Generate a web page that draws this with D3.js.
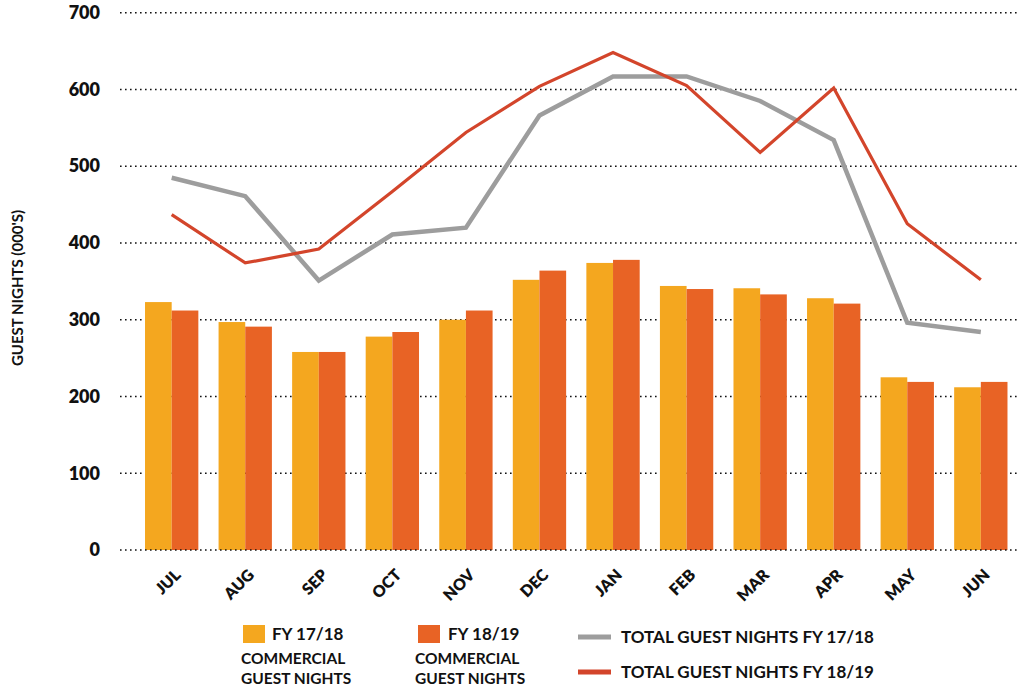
<!DOCTYPE html>
<html><head><meta charset="utf-8">
<script src="https://cdn.jsdelivr.net/npm/d3@7"></script>
<style>
html,body{margin:0;padding:0;background:#fff;}
text{font-family:Lato,"Open Sans",sans-serif;}
</style></head>
<body><svg id="c" width="1023" height="689"></svg>
<script>
const months = ["JUL","AUG","SEP","OCT","NOV","DEC","JAN","FEB","MAR","APR","MAY","JUN"];
const commercial1718 = [323,297,258,278,300,352,374,344,341,328,225,212];
const commercial1819 = [312,291,258,284,312,364,378,340,333,321,219,219];
const total1718 = [485,461,351,411,420,566,617,617,585,534,296,284];
const total1819 = [437,374,392,467,544,604,648,605,518,602,425,352];
const yTicks = [0,100,200,300,400,500,600,700];

const svg = d3.select("#c");
const x = d3.scaleBand().domain(months).range([134.9,1017.6]).paddingInner(0.275).paddingOuter(0.1375);
const y = d3.scaleLinear().domain([0,700]).range([550,12.7]);
const sub = d3.scaleBand().domain(["a","b"]).range([0,x.bandwidth()]);

const colY = "#F4A71F", colO = "#E86325", colGray = "#9D9D9D", colRed = "#D3452B";

// gridlines (excluding 0, which is drawn on top)
const grid = svg.append("g");
grid.selectAll("line").data(yTicks.filter(d=>d>0)).join("line")
  .attr("x1",120).attr("x2",1020).attr("y1",d=>y(d)).attr("y2",d=>y(d))
  .attr("stroke","#111").attr("stroke-width",1.6).attr("stroke-dasharray","1.6,3.4");

// y tick labels
const yAxis = d3.axisLeft(y).tickValues(yTicks).tickSize(0).tickPadding(0);
const ya = svg.append("g").attr("transform","translate(100,0)").call(yAxis);
ya.select(".domain").remove();
ya.selectAll("text").attr("font-size",18).attr("font-weight",800).attr("fill","#111").attr("font-family","Lato");

// bars
const g = svg.append("g");
g.selectAll("rect.a").data(months).join("rect").attr("class","a")
  .attr("x",d=>x(d)+sub("a")).attr("width",sub.bandwidth())
  .attr("y",(d,i)=>y(commercial1718[i])).attr("height",(d,i)=>y(0)-y(commercial1718[i]))
  .attr("fill",colY);
g.selectAll("rect.b").data(months).join("rect").attr("class","b")
  .attr("x",d=>x(d)+sub("b")).attr("width",sub.bandwidth())
  .attr("y",(d,i)=>y(commercial1819[i])).attr("height",(d,i)=>y(0)-y(commercial1819[i]))
  .attr("fill",colO);

// zero line
svg.append("line").attr("x1",120).attr("x2",1020).attr("y1",y(0)).attr("y2",y(0))
  .attr("stroke","#111").attr("stroke-width",1.6).attr("stroke-dasharray","1.6,3.4");

// lines
const line = d3.line().x((d,i)=>x(months[i])+x.bandwidth()/2).y(d=>y(d));
svg.append("path").datum(total1718).attr("d",line).attr("fill","none")
  .attr("stroke",colGray).attr("stroke-width",4.5).attr("stroke-linejoin","miter");
svg.append("path").datum(total1819).attr("d",line).attr("fill","none")
  .attr("stroke",colRed).attr("stroke-width",3.2).attr("stroke-linejoin","miter");

// x labels
const xa = svg.append("g");
xa.selectAll("text").data(months).join("text")
  .attr("transform",d=>`translate(${x(d)+x.bandwidth()/2+6},${572}) rotate(-45)`)
  .attr("text-anchor","end").attr("dy","0.35em")
  .attr("font-size",16).attr("font-weight",800).attr("fill","#111").text(d=>d);

// y title
svg.append("text").attr("transform","translate(23,288) rotate(-90)")
  .attr("text-anchor","middle").attr("font-size",15).attr("font-weight",700).attr("fill","#111")
  .text("GUEST NIGHTS (000'S)");

// legend
const leg = svg.append("g");
const legFont = 17, subFont = 15.5;
leg.append("rect").attr("x",243).attr("y",625).attr("width",22).attr("height",18).attr("fill",colY);
leg.append("text").attr("x",272).attr("y",634).attr("dy","0.35em").attr("font-size",legFont).attr("font-weight",700).attr("fill","#111").text("FY 17/18");
leg.append("rect").attr("x",418).attr("y",625).attr("width",22).attr("height",18).attr("fill",colO);
leg.append("text").attr("x",448).attr("y",634).attr("dy","0.35em").attr("font-size",legFont).attr("font-weight",700).attr("fill","#111").text("FY 18/19");
[241,415].forEach(lx=>{
  leg.append("text").attr("x",lx).attr("y",659).attr("dy","0.35em").attr("font-size",subFont).attr("font-weight",700).attr("fill","#111").text("COMMERCIAL");
  leg.append("text").attr("x",lx).attr("y",678.5).attr("dy","0.35em").attr("font-size",subFont).attr("font-weight",700).attr("fill","#111").text("GUEST NIGHTS");
});
leg.append("line").attr("x1",578).attr("x2",611).attr("y1",637).attr("y2",637).attr("stroke",colGray).attr("stroke-width",5);
leg.append("text").attr("x",621).attr("y",637).attr("dy","0.35em").attr("font-size",legFont).attr("font-weight",700).attr("fill","#111").text("TOTAL GUEST NIGHTS FY 17/18");
leg.append("line").attr("x1",578).attr("x2",611).attr("y1",672).attr("y2",672).attr("stroke",colRed).attr("stroke-width",5);
leg.append("text").attr("x",621).attr("y",672).attr("dy","0.35em").attr("font-size",legFont).attr("font-weight",700).attr("fill","#111").text("TOTAL GUEST NIGHTS FY 18/19");
</script></body></html>
